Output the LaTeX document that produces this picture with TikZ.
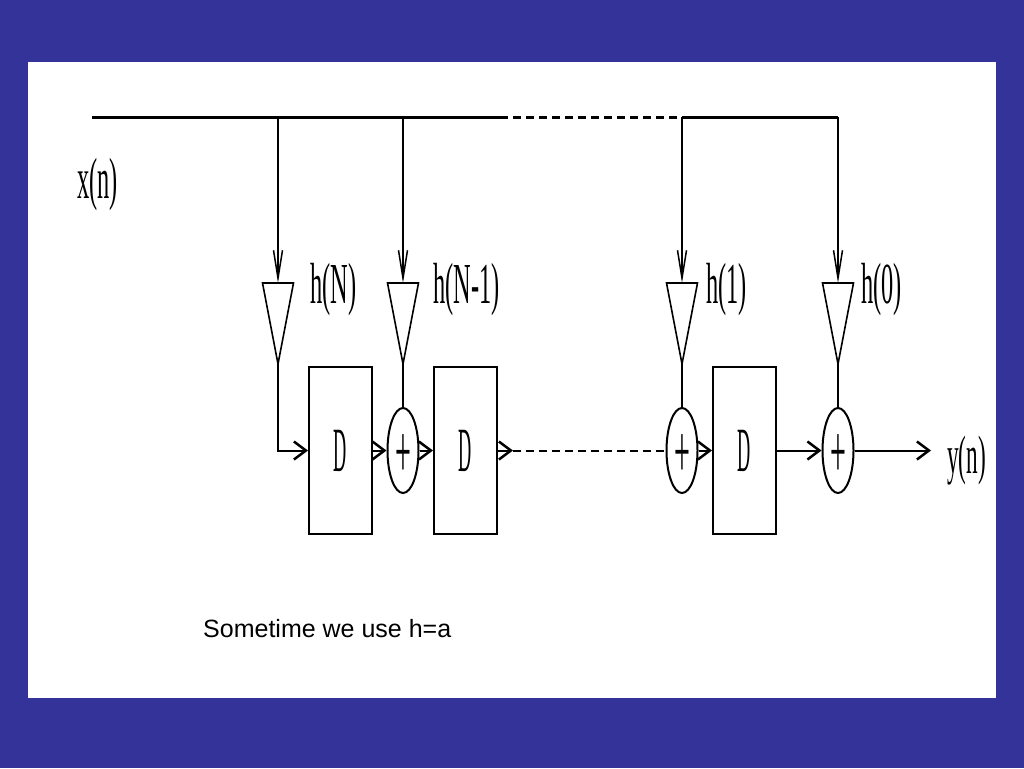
\documentclass[tikz,border=0pt]{standalone}
\usepackage{fontspec}
\usepackage{graphicx}
\setmainfont{Liberation Serif}
\newfontfamily\arialfont{Liberation Sans}
\usetikzlibrary{arrows.meta,shapes.geometric}
\definecolor{slideblue}{RGB}{51,51,153}
\newcommand{\dlbl}{{\fontsize{63}{63}\selectfont\scalebox{0.29}[1]{D}}}
\newcommand{\plbl}{{\fontsize{76}{76}\selectfont\scalebox{0.37}[1]{+}}}
\tikzset{
  bus/.style={line width=3pt},
  tapline/.style={line width=1.5pt},
  taparrow/.style={line width=1.5pt, -{Straight Barb[length=28pt,width=9pt,line width=1.5pt]}},
  sig/.style={line width=2pt},
  sigarrow/.style={sig, -{Straight Barb[length=12pt,width=18pt,line width=2.5pt]}},
  delaybox/.style={draw, line width=2pt, minimum width=63pt, minimum height=167pt, inner sep=0pt},
  adder/.style={draw, ellipse, line width=2pt, minimum width=31pt, minimum height=85pt, inner sep=0pt,
    label={[inner sep=0pt, yshift=-6pt]center:\plbl}},
  amp/.pic={\draw[line width=1.6pt, line join=miter] (-15.5,0) -- (15.5,0) -- (0,81) -- cycle;},
  lbl/.style={anchor=base west, inner sep=0pt, font=\fontsize{58}{58}\selectfont},
}
\begin{document}
\begin{tikzpicture}[x=1pt,y=-1pt]
\fill[slideblue] (0,0) rectangle (1024,768);
\fill[white] (28,62) rectangle (996,698);
\useasboundingbox (0,0) rectangle (1024,768);

% bus
\coordinate (b0) at (92,117);
\coordinate (b1) at (500,117);
\coordinate (b2) at (682,117);
\coordinate (b3) at (838,117);
\coordinate (bN) at (278,117);
\coordinate (bN1) at (403,117);
\draw[bus] (b0) -- (b1);
\draw[bus, dash pattern=on 8pt off 5pt] (b1) -- (b2);
\draw[bus] (b2) -- (b3);

% amplifiers
\coordinate (topN) at (278,283);
\coordinate (topN1) at (403,283);
\coordinate (top1) at (682,283);
\coordinate (top0) at (838,283);
\coordinate (tipN) at (278,364);
\coordinate (tipN1) at (403,364);
\coordinate (tip1) at (682,364);
\coordinate (tip0) at (838,364);
\pic at (topN) {amp};
\pic at (topN1) {amp};
\pic at (top1) {amp};
\pic at (top0) {amp};
\draw[taparrow] (bN) -- (topN);
\draw[taparrow] (bN1) -- (topN1);
\draw[taparrow] (b2) -- (top1);
\draw[taparrow] (b3) -- (top0);

% delays and adders
\node[delaybox] (D1) at (340.5,450.5) {\dlbl};
\node[delaybox] (D2) at (465.5,450.5) {\dlbl};
\node[delaybox] (D3) at (744.5,450.5) {\dlbl};
\node[adder] (A2) at (403,450.5) {};
\node[adder] (A3) at (682,450.5) {};
\node[adder] (A4) at (838,450.5) {};
\coordinate (yout) at (931,450.5);

\draw[sigarrow] (tipN) |- (D1.west);
\draw[tapline] (tipN1) -- (A2.north);
\draw[tapline] (tip1) -- (A3.north);
\draw[tapline] (tip0) -- (A4.north);
\draw[sigarrow] (D1.east) -- (A2.west);
\draw[sigarrow] (A2.east) -- (D2.west);
\draw[sigarrow] (D2.east) -- ++(15,0) coordinate (d2o);
\draw[sig, dash pattern=on 8pt off 5pt] (d2o) -- (A3.west);
\draw[sigarrow] (A3.east) -- (D3.west);
\draw[sigarrow] (D3.east) -- (A4.west);
\draw[sigarrow] (A4.east) -- (yout);

% labels
\node[lbl] (lx) at (77,198) {\scalebox{0.42}[1]{x(n)}};
\node[lbl] (lhN) at (310,303) {\scalebox{0.42}[1]{h(N)}};
\node[lbl] (lhN1) at (433,303) {\scalebox{0.42}[1]{h(N-1)}};
\node[lbl] (lh1) at (706,303) {\scalebox{0.42}[1]{h(1)}};
\node[lbl] (lh0) at (861,303) {\scalebox{0.42}[1]{h(0)}};
\node[lbl, font=\fontsize{54}{54}\selectfont] (ly) at (947,473) {\scalebox{0.43}[1]{y(n)}};

\node[anchor=base west, inner sep=0pt, font=\arialfont\fontsize{25}{25}\selectfont] (note) at (203,637) {Sometime we use h=a};
\end{tikzpicture}
\end{document}
